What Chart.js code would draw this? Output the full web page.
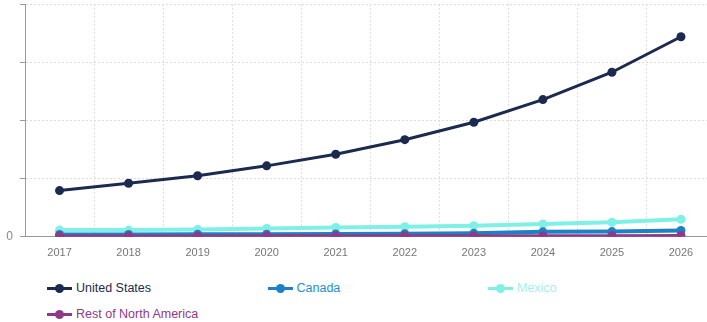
<!DOCTYPE html>
<html>
<head>
<meta charset="utf-8">
<script src="https://cdn.jsdelivr.net/npm/chart.js@4"></script>
<style>
  body { margin: 0; overflow: hidden; background: #fff; font-family: "Liberation Sans", Arial, sans-serif; }
  .caja { position: relative; top: -10px; width: 720px; height: 282px; }
  .leyenda { position: absolute; left: 47px; top: 279px; width: 680px; }
  .item { position: absolute; font-size: 12.5px; white-space: nowrap; line-height: 18px; }
  .marca { position: absolute; left: 0; top: 8px; width: 25px; height: 3px; }
  .punto { position: absolute; left: 8px; top: -3px; width: 9px; height: 9px; border-radius: 50%; }
  .texto { position: absolute; left: 29px; top: 0; }
</style>
</head>
<body>
<div class="caja"><canvas id="grafico"></canvas></div>
<div class="leyenda" id="leyenda"></div>
<script>
// datos (1 linea de grilla = 10)
let anios = ['2017', '2018', '2019', '2020', '2021', '2022', '2023', '2024', '2025', '2026'];
let unitedStates = [7.95, 9.2, 10.5, 12.2, 14.2, 16.7, 19.7, 23.6, 28.3, 34.4];
let canada = [0.4, 0.4, 0.42, 0.45, 0.5, 0.52, 0.6, 0.85, 0.9, 1.1];
let mexico = [1.15, 1.15, 1.27, 1.43, 1.6, 1.74, 1.91, 2.2, 2.5, 3.0];
let restoNA = [0.15, 0.15, 0.15, 0.16, 0.17, 0.18, 0.19, 0.2, 0.2, 0.22];

let series = [
    { nombre: 'United States', datos: unitedStates, color: '#1b2a4e', texto: '#1b2a4e', ancho: 3, orden: 3 },
    { nombre: 'Canada', datos: canada, color: '#1e80c6', texto: '#1a8fd0', ancho: 4, orden: 1 },
    { nombre: 'Mexico', datos: mexico, color: '#7ff0e6', texto: '#a3efec', ancho: 4, orden: 2 },
    { nombre: 'Rest of North America', datos: restoNA, color: '#8e3a87', texto: '#8e3a87', ancho: 3, orden: 0 }
];

let ctx = document.querySelector('#grafico').getContext('2d');

let myChart = new Chart(ctx, {
    type: 'line',
    data: {
        labels: anios,
        datasets: series.map(s => ({
            label: s.nombre,
            data: s.datos,
            borderColor: s.color,
            backgroundColor: s.color,
            borderWidth: s.ancho,
            pointRadius: 4.5,
            pointBorderWidth: 0,
            tension: 0,
            fill: false,
            order: s.orden
        }))
    },
    options: {
        responsive: true,
        maintainAspectRatio: false,
        animation: false,
        layout: { padding: { top: 0, bottom: 2, left: 0, right: 0 } },
        plugins: { legend: { display: false }, tooltip: { enabled: false } },
        scales: {
            x: {
                offset: true,
                grid: { offset: true, color: '#dcdcdc', drawTicks: false },
                border: { color: '#9a9a9a', width: 1, dash: [2, 2] },
                ticks: { color: '#777', font: { size: 11, family: 'Liberation Sans' }, padding: 10, maxRotation: 0 }
            },
            y: {
                min: 0,
                max: 40,
                afterFit: function (scale) { scale.width = 25; },
                grid: { color: '#dcdcdc', tickBorderDash: [1, 0], tickColor: '#9a9a9a', tickLength: 5 },
                border: { color: '#9a9a9a', width: 1, dash: [2, 2] },
                ticks: {
                    stepSize: 10,
                    color: '#888',
                    padding: 7,
                    font: { size: 12, family: 'Liberation Sans' },
                    callback: function (v) { return v === 0 ? '0' : ''; }
                }
            }
        }
    }
});

// leyenda en html, tres columnas
let leyenda = document.querySelector('#leyenda');
myChart.data.datasets.forEach(function (ds, i) {
    let item = document.createElement('div');
    item.className = 'item';
    item.style.left = (i % 3) * 220.5 + 'px';
    item.style.top = Math.floor(i / 3) * 26 + 'px';
    item.innerHTML = '<span class="marca" style="background:' + ds.borderColor + '">' +
        '<span class="punto" style="background:' + ds.borderColor + '"></span></span>' +
        '<span class="texto" style="color:' + series[i].texto + '">' + ds.label + '</span>';
    leyenda.appendChild(item);
});
</script>
</body>
</html>
